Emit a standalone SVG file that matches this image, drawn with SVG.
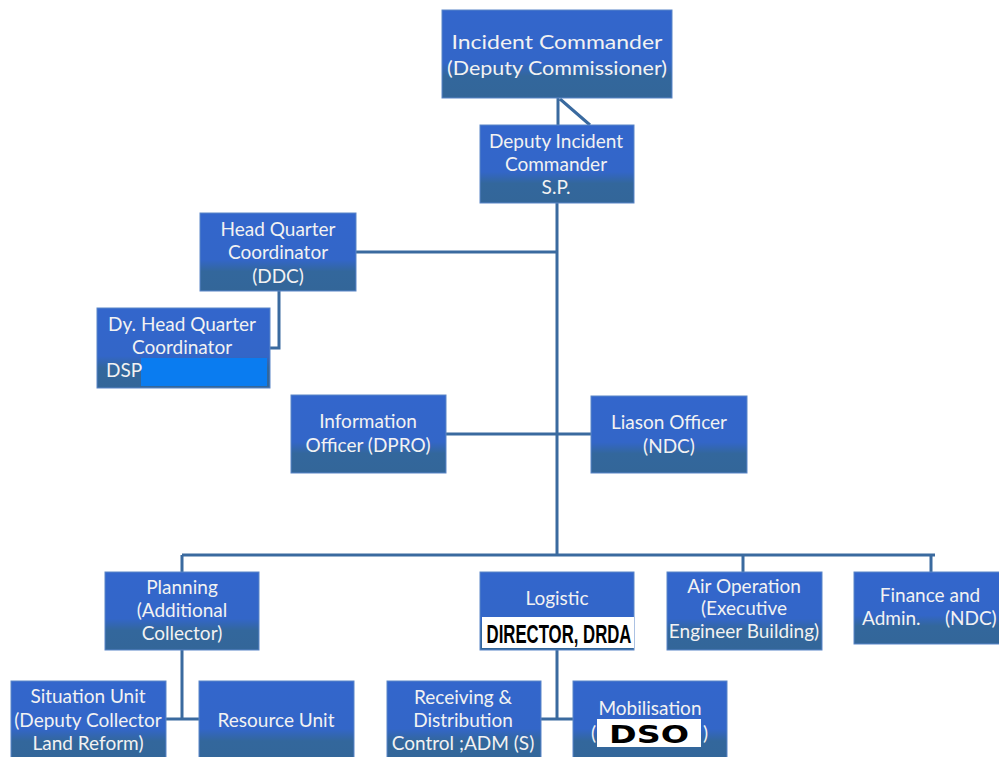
<svg xmlns="http://www.w3.org/2000/svg" width="999" height="757" viewBox="0 0 999 757">
<defs>
<linearGradient id="g" x1="0" y1="0" x2="0" y2="1">
<stop offset="0" stop-color="#3366cc"/>
<stop offset="0.6" stop-color="#3366c8"/>
<stop offset="0.75" stop-color="#33679c"/>
<stop offset="1" stop-color="#336699"/>
</linearGradient>
<style>
.b{fill:url(#g);stroke:#5b86c8;stroke-width:1}
.t{font-family:Lato,"Open Sans","Liberation Sans",sans-serif;fill:#f2f2f2;font-size:19px;text-anchor:middle}
.c{stroke:#3a6a9f;stroke-width:3;fill:none}
</style>
</defs>
<rect width="999" height="757" fill="#ffffff"/>
<g id="connectors">
<path class="c" d="M558 98V125M560 99L590 125"/>
<path class="c" d="M557 203V555"/>
<path class="c" d="M356 252H557"/>
<path class="c" d="M279 291V348H270"/>
<path class="c" d="M446 434H591"/>
<path class="c" d="M182 555H935M182 555V572M743 555V572M931 555V572"/>
<path class="c" d="M182 650V719M166 719H199"/>
<path class="c" d="M557 650V719M541 719H573"/>
</g>
<g id="incident-commander">
<rect class="b" x="442" y="10" width="230" height="88"/>
<text class="t" x="557" y="49" font-size="25" textLength="211" lengthAdjust="spacingAndGlyphs">Incident Commander</text>
<text class="t" x="557" y="75" font-size="25" textLength="220" lengthAdjust="spacingAndGlyphs">(Deputy Commissioner)</text>
</g>
<g id="deputy-incident-commander">
<rect class="b" x="480" y="125" width="154" height="78"/>
<text class="t" x="556" y="148">Deputy Incident</text>
<text class="t" x="556" y="171">Commander</text>
<text class="t" x="556" y="194">S.P.</text>
</g>
<g id="hq-coordinator">
<rect class="b" x="200" y="213" width="156" height="78"/>
<text class="t" x="278" y="236">Head Quarter</text>
<text class="t" x="278" y="259">Coordinator</text>
<text class="t" x="278" y="283">(DDC)</text>
</g>
<g id="dy-hq-coordinator">
<rect class="b" x="97" y="308" width="173" height="80"/>
<rect x="141" y="358" width="126" height="28" fill="#0a7cf0"/>
<text class="t" x="182" y="331">Dy. Head Quarter</text>
<text class="t" x="182" y="354">Coordinator</text>
<text class="t" x="106" y="377" style="text-anchor:start">DSP</text>
</g>
<g id="information-officer">
<rect class="b" x="291" y="395" width="155" height="78"/>
<text class="t" x="368" y="428">Information</text>
<text class="t" x="368" y="452">Officer (DPRO)</text>
</g>
<g id="liason-officer">
<rect class="b" x="591" y="396" width="156" height="77"/>
<text class="t" x="669" y="429">Liason Officer</text>
<text class="t" x="669" y="453">(NDC)</text>
</g>
<g id="planning">
<rect class="b" x="105" y="572" width="154" height="78"/>
<text class="t" x="182" y="594">Planning</text>
<text class="t" x="182" y="617">(Additional</text>
<text class="t" x="182" y="640">Collector)</text>
</g>
<g id="logistic">
<rect class="b" x="480" y="572" width="154" height="78"/>
<rect x="482" y="617" width="152" height="31" fill="#ffffff"/>
<text class="t" x="557" y="605">Logistic</text>
<text transform="translate(559,643) scale(0.645,1)" x="0" y="0" font-family="'Liberation Sans',sans-serif" font-weight="bold" font-size="26" fill="#000" text-anchor="middle">DIRECTOR, DRDA</text>
</g>
<g id="air-operation">
<rect class="b" x="667" y="572" width="155" height="78"/>
<text class="t" x="744" y="593" font-size="17">Air Operation</text>
<text class="t" x="744" y="615" font-size="17">(Executive</text>
<text class="t" x="744" y="638" font-size="17">Engineer Building)</text>
</g>
<g id="finance-admin">
<rect class="b" x="854" y="572" width="150" height="72"/>
<text class="t" x="930" y="602">Finance and</text>
<text class="t" x="862" y="625" style="text-anchor:start" xml:space="preserve">Admin.     (NDC)</text>
</g>
<g id="situation-unit">
<rect class="b" x="11" y="681" width="155" height="80"/>
<text class="t" x="88" y="703">Situation Unit</text>
<text class="t" x="88" y="727">(Deputy Collector</text>
<text class="t" x="88" y="750">Land Reform)</text>
</g>
<g id="resource-unit">
<rect class="b" x="199" y="681" width="155" height="80"/>
<text class="t" x="276" y="727">Resource Unit</text>
</g>
<g id="receiving-distribution">
<rect class="b" x="387" y="681" width="154" height="80"/>
<text class="t" x="463" y="704">Receiving &amp;</text>
<text class="t" x="463" y="727">Distribution</text>
<text class="t" x="463" y="750">Control ;ADM (S)</text>
</g>
<g id="mobilisation">
<rect class="b" x="573" y="681" width="154" height="80"/>
<text class="t" x="650" y="715">Mobilisation</text>
<text class="t" x="591" y="740" style="text-anchor:start">(</text>
<text class="t" x="703" y="740" style="text-anchor:start">)</text>
<rect x="597" y="719" width="104" height="28" fill="#ffffff"/>
<text x="649" y="743" font-family="'DejaVu Sans','Liberation Sans',sans-serif" font-weight="bold" font-size="25" fill="#000" text-anchor="middle" textLength="80" lengthAdjust="spacingAndGlyphs">DSO</text>
</g>
</svg>
